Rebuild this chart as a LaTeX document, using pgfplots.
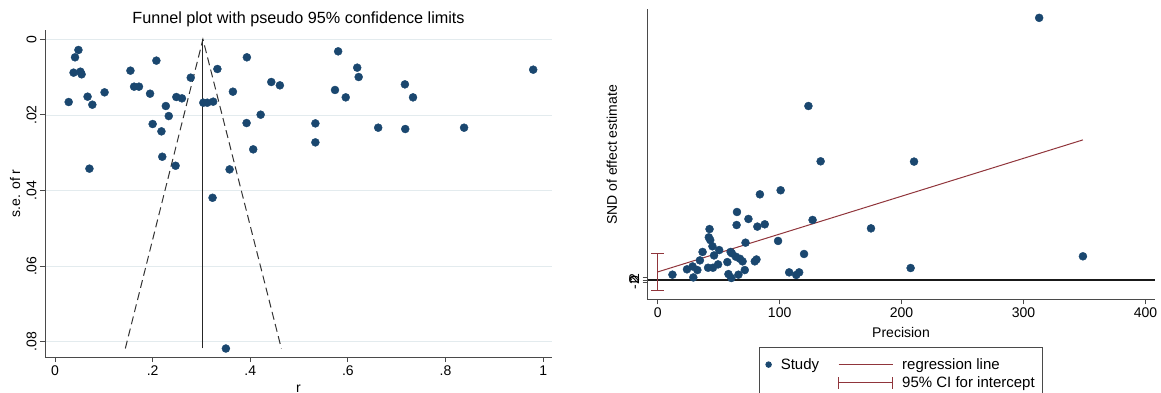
\documentclass[border=0pt]{standalone}
\usepackage{fontspec}
\setmainfont{Liberation Sans}
\usepackage{pgfplots}
\pgfplotsset{compat=1.18}
\definecolor{stblue}{HTML}{1A476F}
\definecolor{stred}{HTML}{90353B}
\definecolor{gridc}{HTML}{E3EBEE}
\definecolor{axc}{HTML}{4A4A4A}
\newcommand{\fs}{\fontsize{14}{16}\selectfont}
\pgfplotstableread{
r se
0.028 0.01658
0.038 0.00882
0.041 0.00476
0.048 0.00282
0.052 0.00856
0.0545 0.00926
0.0667 0.01517
0.0705 0.0342
0.0765 0.01729
0.1015 0.01402
0.1545 0.00829
0.162 0.01252
0.172 0.01252
0.1947 0.01438
0.2076 0.00564
0.200 0.0224
0.218 0.02434
0.2197 0.03105
0.227 0.01764
0.233 0.02029
0.2485 0.01526
0.260 0.01561
0.247 0.03343
0.278 0.01014
0.3038 0.01676
0.312 0.01676
0.324 0.01649
0.3326 0.00785
0.3227 0.0419
0.3644 0.01385
0.3576 0.0344
0.350 0.08176
0.393 0.00476
0.3924 0.02214
0.4212 0.01993
0.406 0.0291
0.443 0.01129
0.4606 0.01217
0.5333 0.02223
0.5333 0.02725
0.5735 0.0134
0.580 0.00318
0.5955 0.01535
0.619 0.0075
0.622 0.00997
0.662 0.02337
0.7167 0.01191
0.7174 0.02372
0.7333 0.01535
0.8379 0.02337
0.9795 0.00803
}\funnel
\pgfplotstableread{
prec snd
312.8 181.1
123.6 120.2
133.6 82.0
210.2 81.8
100.8 62.0
83.8 59.2
65.0 47.0
74.4 42.2
127.0 41.5
64.7 38.0
81.7 36.9
87.8 38.5
174.9 35.7
42.5 35.2
41.9 29.5
43.1 27.6
98.7 27.0
72.0 25.8
44.9 23.3
50.4 20.7
36.8 19.4
59.8 19.4
60.8 18.5
46.2 17.0
64.1 16.1
120.0 18.0
348.7 16.4
67.4 14.7
69.6 12.9
79.6 12.9
81.0 14.2
34.6 13.6
57.1 12.4
49.5 10.8
41.3 8.5
45.3 8.5
207.4 8.3
24.0 7.4
28.6 9.4
32.5 6.9
71.4 6.9
12.1 3.7
58.0 4.1
66.2 3.7
29.2 1.8
60.4 1.4
107.8 5.3
113.6 3.5
116.0 5.3
}\egger
\begin{document}
\begin{tikzpicture}
\path[use as bounding box] (0pt,0pt) rectangle (1161pt,393pt);
% ---------------- Left: funnel plot
\begin{axis}[
  at={(45pt,36pt)}, anchor=south west, scale only axis,
  width=507pt, height=327pt,
  xmin=-0.0205, xmax=1.018, ymin=-0.00246, ymax=0.0840,
  y dir=reverse,
  scaled y ticks=false, scaled x ticks=false,
  axis line style={draw=none},
  clip=false,
  tick align=outside,
  xtick pos=bottom, ytick pos=left,
  major tick length=5pt,
  tick style={axc, line width=0.9pt},
  xtick={0,0.2,0.4,0.6,0.8,1}, xticklabels={0,.2,.4,.6,.8,1},
  ytick={0,0.02,0.04,0.06,0.08}, yticklabels={0,.02,.04,.06,.08},
  yticklabel style={rotate=90, anchor=south},
  ticklabel style={font=\fs},
  /pgf/number format/assume math mode=true,
  ymajorgrids, grid style={gridc, line width=0.8pt},
  title={Funnel plot with pseudo 95\% confidence limits},
  title style={font=\fontsize{16.2}{18}\selectfont, at={(axis description cs:0.5,1)}, anchor=base, yshift=1pt},
  xlabel={r}, xlabel style={font=\fs, at={(axis description cs:0.5,0)}, anchor=north, inner sep=0pt, yshift=-28pt},
  ylabel={s.e. of r}, ylabel style={font=\fs, at={(axis description cs:-0.059,0.5)}, anchor=center},
]
\draw[axc, line width=0.9pt] (axis cs:-0.0205,-0.00246) -- (axis cs:-0.0205,0.0840) -- (axis cs:1.018,0.0840);
\addplot[black!80, line width=1pt, dash pattern=on 8pt off 4.5pt] coordinates {(0.144,0.08175) (0.303,0) (0.4636,0.08175)};
\addplot[black!85, line width=1.1pt] coordinates {(0.303,0.08175) (0.303,0)};
\addplot[only marks, mark=*, mark size=4pt, mark options={fill=stblue, draw=stblue}] table[x=r, y=se] {\funnel};
\end{axis}
% ---------------- Right: Egger / Galbraith
\begin{axis}[
  at={(647.7pt,93.7pt)}, anchor=south west, scale only axis,
  width=507.3pt, height=290pt,
  xmin=-8.2, xmax=407.8, ymin=-13.3, ymax=187,
  scaled y ticks=false, scaled x ticks=false,
  axis line style={draw=none},
  clip=false,
  tick align=outside,
  xtick pos=bottom, ytick pos=left,
  major tick length=5pt,
  tick style={axc, line width=0.9pt},
  xtick={0,100,200,300,400}, xticklabels={0,100,200,300,400},
  ytick={-2,0,2}, yticklabels={-2,0,2},
  yticklabel style={rotate=90, anchor=south},
  ticklabel style={font=\fs},
  /pgf/number format/assume math mode=true,
  xlabel={Precision}, xlabel style={font=\fs, at={(axis description cs:0.4993,-0.1128)}, anchor=center},
  ylabel={SND of effect estimate}, ylabel style={font=\fs, at={(axis description cs:-0.0704,0.4976)}, anchor=center},
  legend columns=2,
  legend style={at={(axis description cs:0.2194,-0.1628)}, anchor=north west,
    draw=axc, line width=0.8pt, font=\fontsize{15}{17}\selectfont, fill=white,
    inner xsep=6pt, inner ysep=9.5pt, row sep=2pt,
    /tikz/every odd column/.append style={column sep=7pt},
    /tikz/every even column/.append style={column sep=17pt}},
  legend cell align=left,
]
\draw[axc, line width=0.9pt] (axis cs:-8.2,187) -- (axis cs:-8.2,-13.3) -- (axis cs:407.8,-13.3);
\addplot[forget plot, black!90, line width=1.5pt] coordinates {(-8.2,0) (407.8,0)};
\addplot[only marks, mark=*, mark size=4pt, mark options={fill=stblue, draw=stblue},
  legend image code/.code={\fill[stblue] (0pt,0pt) circle (2.8pt);}] table[x=prec, y=snd] {\egger};
\addlegendentry{Study}
\addplot[stred, line width=1pt, legend image code/.code={\draw[stred, line width=1pt] (0pt,0pt) -- (54pt,0pt);}] coordinates {(0,5.6) (348.7,96.8)};
\addlegendentry{regression line}
\addlegendimage{empty legend}
\addlegendentry{}
\addlegendimage{legend image code/.code={\draw[stred, line width=1pt] (0pt,-6pt)--(0pt,6pt) (0pt,0pt)--(54pt,0pt) (54pt,-6pt)--(54pt,6pt);}}
\addlegendentry{95\% CI for intercept}
\addplot[forget plot, stred, line width=1pt] coordinates {(0,-6.9) (0,18.0)};
\addplot[forget plot, stred, line width=1pt] coordinates {(-5.3,-6.9) (5.3,-6.9)};
\addplot[forget plot, stred, line width=1pt] coordinates {(-5.3,18.0) (5.3,18.0)};
\end{axis}
\end{tikzpicture}
\end{document}
